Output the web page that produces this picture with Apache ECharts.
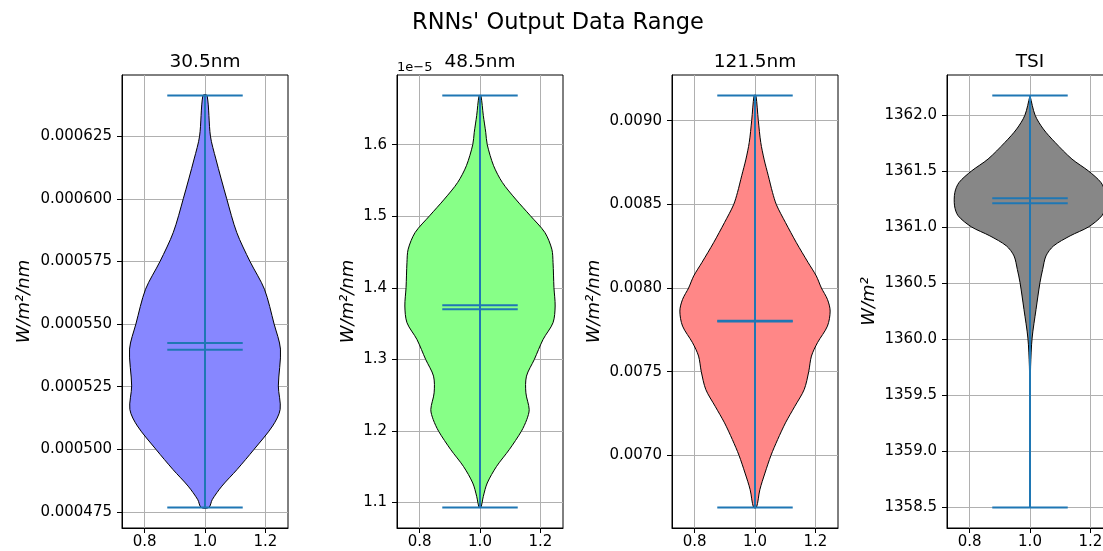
<!DOCTYPE html>
<html><head><meta charset="utf-8">
<script src="https://cdn.jsdelivr.net/npm/echarts@6/dist/echarts.min.js"></script>
<style>html,body{margin:0;padding:0;background:#fff}#c{width:1103px;height:551px}</style>
</head><body><div id="c"></div>
<script>
// ---------- data ----------
const suptitle = "RNNs' Output Data Range";
const panelTitles = ['30.5nm', '48.5nm', '121.5nm', 'TSI'];
const yAxisNames = ['W/m²/nm', 'W/m²/nm', 'W/m²/nm', 'W/m²'];
const xTicks = [0.8, 1.0, 1.2];

// 30.5nm violin outline: value -> half width (x units)
const v305Values = [0.0006412, 0.000625, 0.0006159, 0.0006, 0.0005866, 0.000575, 0.0005639, 0.00055, 0.00054, 0.0005253, 0.0005159, 0.0005093, 0.0004999, 0.0004919, 0.0004853, 0.0004799, 0.0004768];
const v305HalfWidths = [0.007, 0.018, 0.036, 0.072, 0.105, 0.149, 0.197, 0.229, 0.25, 0.243, 0.249, 0.224, 0.162, 0.106, 0.056, 0.024, 0.013];
const v305Extrema = [0.0004768, 0.0006412];
const v305MeanMedian = [0.0005424, 0.0005397];
const v305Ticks = [0.000475, 0.0005, 0.000525, 0.00055, 0.000575, 0.0006, 0.000625];

// 48.5nm (values in units of 1e-5)
const v485Values = [1.6686, 1.6406, 1.6173, 1.6, 1.5706, 1.5472, 1.5239, 1.5006, 1.4772, 1.4539, 1.4352, 1.4002, 1.3745, 1.3512, 1.3278, 1.2998, 1.2765, 1.2531, 1.2298, 1.2158, 1.1994, 1.1738, 1.1504, 1.1271, 1.1084, 1.0930];
const v485HalfWidths = [0.003, 0.011, 0.019, 0.024, 0.045, 0.074, 0.118, 0.167, 0.215, 0.238, 0.242, 0.245, 0.249, 0.242, 0.209, 0.180, 0.154, 0.152, 0.163, 0.155, 0.137, 0.097, 0.055, 0.024, 0.011, 0.003];
const v485Extrema = [1.0930, 1.6686];
const v485MeanMedian = [1.3754, 1.3698];
const v485Ticks = [1.1, 1.2, 1.3, 1.4, 1.5, 1.6];

// 121.5nm
const v1215Values = [0.00915, 0.009, 0.00887, 0.00877, 0.008671, 0.008571, 0.008497, 0.008391, 0.008271, 0.008152, 0.008072, 0.0080, 0.007932, 0.007862, 0.007772, 0.007673, 0.007593, 0.0075, 0.007393, 0.007293, 0.007194, 0.007094, 0.0070, 0.006894, 0.006794, 0.006689];
const v1215HalfWidths = [0.003, 0.011, 0.019, 0.030, 0.044, 0.058, 0.071, 0.101, 0.137, 0.176, 0.203, 0.22, 0.24, 0.249, 0.24, 0.207, 0.187, 0.178, 0.163, 0.132, 0.101, 0.075, 0.053, 0.033, 0.016, 0.005];
const v1215Extrema = [0.0066886, 0.0091497];
const v1215MeanMedian = [0.0078035, 0.0078];
const v1215Ticks = [0.007, 0.0075, 0.008, 0.0085, 0.009];

// TSI
const tsiValues = [1362.176, 1362.0, 1361.878, 1361.758, 1361.609, 1361.502, 1361.4, 1361.311, 1361.191, 1361.102, 1361.003, 1360.923, 1360.833, 1360.744, 1360.624, 1360.505, 1360.266, 1360.010, 1359.759, 1359.520, 1359.312, 1358.497];
const tsiHalfWidths = [0.0, 0.017, 0.044, 0.083, 0.139, 0.194, 0.235, 0.249, 0.25, 0.238, 0.194, 0.133, 0.078, 0.053, 0.042, 0.033, 0.020, 0.007, 0.002, 0.001, 0.0005, 0.0];
const tsiExtrema = [1358.497, 1362.176];
const tsiMeanMedian = [1361.26, 1361.215];
const tsiTicks = [1358.5, 1359.0, 1359.5, 1360.0, 1360.5, 1361.0, 1361.5, 1362.0];

const fillColors = ['#8787ff', '#87ff87', '#ff8787', '#878787'];

// ---------- build ----------
const panels = [
  { values: v305Values, hw: v305HalfWidths, ext: v305Extrema, mm: v305MeanMedian, ticks: v305Ticks, dec: 6 },
  { values: v485Values, hw: v485HalfWidths, ext: v485Extrema, mm: v485MeanMedian, ticks: v485Ticks, dec: 1 },
  { values: v1215Values, hw: v1215HalfWidths, ext: v1215Extrema, mm: v1215MeanMedian, ticks: v1215Ticks, dec: 4 },
  { values: tsiValues, hw: tsiHalfWidths, ext: tsiExtrema, mm: tsiMeanMedian, ticks: tsiTicks, dec: 1 }
];

const FONT = 'DejaVu Sans';
const LINE_C = '#1f77b4';
const gridLefts = [122, 397, 672, 947];
const grids = [], xAxes = [], yAxes = [], series = [], graphics = [];

panels.forEach((p, i) => {
  const span = p.ext[1] - p.ext[0];
  const yMin = p.ext[0] - 0.05 * span, yMax = p.ext[1] + 0.05 * span;
  grids.push({ left: gridLefts[i], top: 75, width: 166, height: 453, show: true, borderColor: '#000', borderWidth: 1, containLabel: false, outerBoundsMode: 'none' });
  xAxes.push({
    gridIndex: i, type: 'value', min: 0.725, max: 1.275,
    axisLine: { show: true, onZero: false, lineStyle: { color: '#000', width: 1 } },
    axisTick: { show: true, customValues: xTicks, length: 5, lineStyle: { color: '#000', width: 1 } },
    axisLabel: { customValues: xTicks, formatter: v => v.toFixed(1), fontSize: 15, fontFamily: FONT, color: '#000', margin: 7 },
    splitLine: { show: true, lineStyle: { color: '#b0b0b0', width: 1 } }
  });
  yAxes.push({
    gridIndex: i, type: 'value', min: yMin, max: yMax,
    axisLine: { show: true, onZero: false, lineStyle: { color: '#000', width: 1 } },
    axisTick: { show: true, customValues: p.ticks, length: 5, lineStyle: { color: '#000', width: 1 } },
    axisLabel: { customValues: p.ticks, formatter: v => v.toFixed(p.dec), fontSize: 15, fontFamily: FONT, color: '#000', margin: 10 },
    splitLine: { show: true, lineStyle: { color: '#b0b0b0', width: 1 } }
  });
  // violin body
  series.push({
    type: 'custom', xAxisIndex: i, yAxisIndex: i, silent: true, z: 2,
    data: [[1, p.ext[0]]],
    renderItem: (params, api) => {
      const pts = [];
      for (let k = p.values.length - 1; k >= 0; k--) pts.push(api.coord([1 + p.hw[k], p.values[k]]));
      for (let k = 0; k < p.values.length; k++) pts.push(api.coord([1 - p.hw[k], p.values[k]]));
      return { type: 'polygon', shape: { points: pts, smooth: 0.3 }, style: { fill: fillColors[i], stroke: '#000', lineWidth: 1 } };
    }
  });
  // stat lines: vertical range, extrema bars, mean & median bars
  const segs = [[1, p.ext[0], 1, p.ext[1]]];
  p.ext.concat(p.mm).forEach(v => segs.push([0.875, v, 1.125, v]));
  series.push({
    type: 'custom', xAxisIndex: i, yAxisIndex: i, silent: true, z: 3,
    dimensions: ['x1', 'y1', 'x2', 'y2'], encode: { x: [0, 2], y: [1, 3] },
    data: segs,
    renderItem: (params, api) => {
      const a = api.coord([api.value(0), api.value(1)]);
      const b = api.coord([api.value(2), api.value(3)]);
      return { type: 'line', shape: { x1: a[0], y1: a[1], x2: b[0], y2: b[1] }, style: { stroke: LINE_C, lineWidth: 2 } };
    }
  });
  graphics.push({ type: 'text', x: gridLefts[i] + 83, y: 62, style: { text: panelTitles[i], font: '18.5px "DejaVu Sans"', fill: '#000', align: 'center', verticalAlign: 'middle' } });
});

const nameX = [24.5, 348.5, 594, 869];
nameX.forEach((x, i) => {
  graphics.push({ type: 'text', x: x, y: 301.5, rotation: Math.PI / 2,
    style: { text: yAxisNames[i], font: 'italic 18px "DejaVu Sans"', fill: '#000', align: 'center', verticalAlign: 'middle' } });
});
graphics.push({ type: 'text', x: 558, y: 23, style: { text: suptitle, font: '22.5px "DejaVu Sans"', fill: '#000', align: 'center', verticalAlign: 'middle' } });
graphics.push({ type: 'text', x: 397, y: 68, style: { text: '1e\u22125', font: '13px "DejaVu Sans"', fill: '#000', align: 'left', verticalAlign: 'middle' } });

const chart = echarts.init(document.getElementById('c'), null, { renderer: 'canvas' });
chart.setOption({
  animation: false,
  backgroundColor: '#fff',
  grid: grids, xAxis: xAxes, yAxis: yAxes, series: series,
  graphic: graphics
});
</script></body></html>
